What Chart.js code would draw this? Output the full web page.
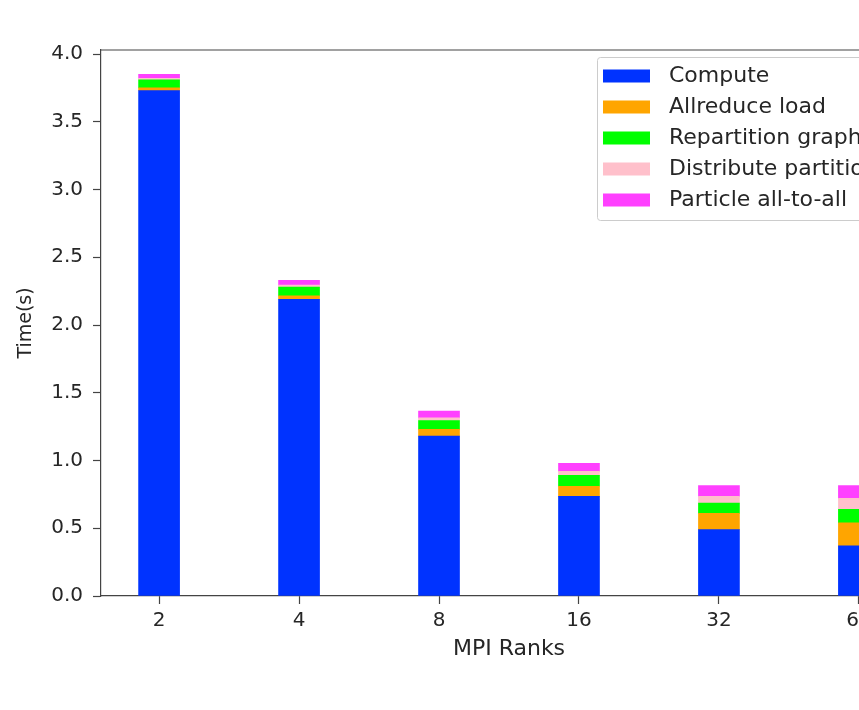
<!DOCTYPE html>
<html lang="en">
<head>
  <meta charset="UTF-8">
  <title>MPI Ranks timing</title>
  <style>
    body {
      margin: 0;
      background: white;
      overflow: hidden;
    }
    #view {
      width: 859px;
      height: 710px;
      overflow: hidden;
      position: relative;
    }
    #box {
      width: 960px;   /* figure is cropped on the right like the reference */
      height: 710px;
      position: relative;
    }
  </style>
</head>
<body>
  <div id="view">
    <div id="box"><canvas id="chart"></canvas></div>
  </div>

  <script src="https://cdn.jsdelivr.net/npm/chart.js"></script>
  <script>
    // data
    const ranks = ["2", "4", "8", "16", "32", "64"];
    const compute     = [3.73, 2.19, 1.18, 0.735, 0.49, 0.37];
    const allreduce   = [0.02, 0.025, 0.05, 0.075, 0.12, 0.17];
    const repartition = [0.06, 0.065, 0.065, 0.08, 0.075, 0.10];
    const distribute  = [0.01, 0.015, 0.02, 0.03, 0.05, 0.08];
    const particle    = [0.03, 0.035, 0.05, 0.06, 0.08, 0.095];

    const seriesNames = ["Compute", "Allreduce load", "Repartition graph", "Distribute partitions", "Particle all-to-all"];
    const seriesColors = ["#0033ff", "#ffa500", "#00ff00", "#ffc0cb", "#ff40ff"];
    const seriesValues = [compute, allreduce, repartition, distribute, particle];

    const yTicks = [0, 0.5, 1.0, 1.5, 2.0, 2.5, 3.0, 3.5, 4.0];

    const FONT = "DejaVu Sans";
    const INK = "#262626";
    const SPINE = "#444444";

    const datasets = seriesNames.map((name, k) => ({
      label: name,
      data: seriesValues[k].map((v, i) => ({ x: i, y: v })),
      backgroundColor: seriesColors[k],
      borderWidth: 0,
      barThickness: 41
    }));

    // top / right spines
    const framePlugin = {
      id: "frame",
      afterDatasetsDraw(chart) {
        const { ctx, chartArea: a } = chart;
        ctx.save();
        ctx.strokeStyle = SPINE;
        ctx.lineWidth = 1.2;
        ctx.beginPath();
        ctx.moveTo(a.left, a.top);
        ctx.lineTo(a.right, a.top);
        ctx.lineTo(a.right, a.bottom);
        ctx.stroke();
        ctx.restore();
      }
    };

    // matplotlib style legend box in the upper right
    const legendPlugin = {
      id: "mplLegend",
      afterDraw(chart) {
        const ctx = chart.ctx;
        const ds = chart.data.datasets;
        const left = 597, top = 57, rowH = 31, firstRow = 76;
        ctx.save();
        ctx.font = "22px '" + FONT + "'";
        let maxW = 0;
        ds.forEach(d => { maxW = Math.max(maxW, ctx.measureText(d.label).width); });
        const w = 669 - left + maxW + 12;
        const h = 163;
        ctx.fillStyle = "rgba(255,255,255,0.8)";
        ctx.strokeStyle = "#cccccc";
        ctx.lineWidth = 1;
        ctx.beginPath();
        ctx.roundRect(left + 0.5, top + 0.5, w, h, 3);
        ctx.fill();
        ctx.stroke();
        ds.forEach((d, i) => {
          const y = firstRow + i * rowH;
          ctx.fillStyle = d.backgroundColor;
          ctx.fillRect(603, y - 6.5, 47, 13);
          ctx.fillStyle = INK;
          ctx.textBaseline = "middle";
          ctx.textAlign = "left";
          ctx.fillText(d.label, 669, y);
        });
        ctx.restore();
      }
    };

    new Chart(document.getElementById("chart"), {
      type: "bar",
      data: { datasets },
      plugins: [framePlugin, legendPlugin],
      options: {
        responsive: true,
        maintainAspectRatio: false,
        animation: false,
        layout: { padding: { left: 0, top: 50, right: 43, bottom: 48 } },
        plugins: {
          legend: { display: false },
          tooltip: { enabled: false }
        },
        scales: {
          x: {
            type: "linear",
            stacked: true,
            offset: false,
            min: -0.415,
            max: 5.415,
            afterFit: s => { s.height = 66; },
            afterBuildTicks: s => { s.ticks = ranks.map((_, i) => ({ value: i })); },
            ticks: {
              padding: 5,
              color: INK,
              font: { family: FONT, size: 20 },
              callback: v => ranks[Math.round(v)]
            },
            grid: { offset: false, drawOnChartArea: false, drawTicks: true, tickLength: 8, tickColor: SPINE, tickWidth: 1.2 },
            border: { display: true, color: SPINE, width: 1.2 },
            title: {
              display: true,
              text: "MPI Ranks",
              color: INK,
              font: { family: FONT, size: 22 },
              padding: { top: 0, bottom: 0 }
            }
          },
          y: {
            stacked: true,
            min: 0,
            max: 4.03,
            afterFit: s => { s.width = 101; },
            afterBuildTicks: s => { s.ticks = yTicks.map(v => ({ value: v })); },
            ticks: {
              padding: 10,
              color: INK,
              font: { family: FONT, size: 20 },
              callback: v => v.toFixed(1)
            },
            grid: { drawOnChartArea: false, drawTicks: true, tickLength: 8, tickColor: SPINE, tickWidth: 1.2 },
            border: { display: true, color: SPINE, width: 1.2 },
            title: {
              display: true,
              text: "Time(s)",
              color: INK,
              font: { family: FONT, size: 19 },
              padding: { top: 15, bottom: 0 }
            }
          }
        }
      }
    });
  </script>
</body>
</html>
